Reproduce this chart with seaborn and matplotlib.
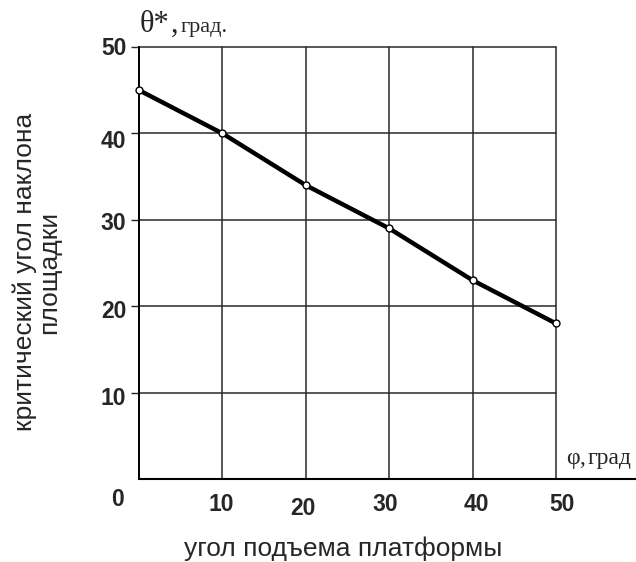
import matplotlib
matplotlib.use("Agg")
import matplotlib.pyplot as plt
import matplotlib.transforms as mtransforms
import seaborn as sns
import pandas as pd

phi = [0, 10, 20, 30, 40, 50]
theta = [45, 40, 34, 29, 23, 18]
x_ticks = [10, 20, 30, 40, 50]
y_ticks = [10, 20, 30, 40, 50]

sns.set_style("white")
plt.rcParams['font.family'] = ['Liberation Sans', 'DejaVu Sans']

df = pd.DataFrame({"phi": phi, "theta": theta})

W, H = 636, 562
fig = plt.figure(figsize=(W/100, H/100), dpi=100)
ax = fig.add_axes([139/W, 1-479/H, (556-139)/W, (479-47)/H])

ax.set_xlim(0, 50)
ax.set_ylim(0, 50)
for v in x_ticks:
    ax.axvline(v, color="#2a2a2a", lw=1.1, zorder=1, clip_on=False)
for v in y_ticks:
    ax.axhline(v, color="#2a2a2a", lw=1.1, zorder=1, clip_on=False)

sns.lineplot(data=df, x="phi", y="theta", ax=ax, color="black", lw=3.2,
             marker="o", markersize=5, markerfacecolor="white",
             markeredgecolor="black", markeredgewidth=1.0, zorder=3, clip_on=False)
ax.set_xlabel("")
ax.set_ylabel("")

for s in ["top", "right", "bottom"]:
    ax.spines[s].set_visible(False)
ax.spines["left"].set_color("black")
ax.spines["left"].set_linewidth(1.4)
ax.plot([0, 1.2], [0, 0], transform=ax.transAxes, color="black", lw=1.5, clip_on=False)

ax.set_xticks(x_ticks)
ax.set_yticks(y_ticks)
ax.tick_params(axis="x", length=0, pad=10, labelsize=16.5)
ax.tick_params(axis="y", length=6, width=1, direction="out", pad=3, labelsize=16.5, left=True)
for lab in ax.get_xticklabels() + ax.get_yticklabels():
    lab.set_fontweight("bold")

# small per-label offsets seen in the reference (pixels)
y_off = {50: 1, 40: -6, 30: -1.5, 20: -3, 10: -3}
for lab, v in zip(ax.get_yticklabels(), y_ticks):
    lab.set_transform(lab.get_transform() + mtransforms.ScaledTranslation(0, y_off[v]/100, fig.dpi_scale_trans))
x_off = {10: (-1, 0), 20: (-3, -4), 30: (-4, 0), 40: (4, 0), 50: (6, 0)}
for lab, v in zip(ax.get_xticklabels(), x_ticks):
    dx, dy = x_off[v]
    lab.set_transform(lab.get_transform() + mtransforms.ScaledTranslation(dx/100, dy/100, fig.dpi_scale_trans))

fig.text(118/W, 1-500/H, "0", ha="center", va="center", fontsize=16.5, fontweight="bold")

fig.text(343/W, 1-549/H, "угол подъема платформы", fontsize=19, ha="center", va="center")
fig.text(37/W, 1-272/H, "критический угол наклона\nплощадки", fontsize=19,
         ha="center", va="center", rotation=90, multialignment="center", linespacing=1.0)

serif = "Liberation Serif"
fig.text(140/W, 1-32/H, "θ*", fontsize=22, family=serif, ha="left", va="baseline")
fig.text(171/W, 1-32/H, ",", fontsize=22, family=serif, ha="left", va="baseline")
fig.text(181/W, 1-32/H, "град.", fontsize=16, family=serif, ha="left", va="baseline")
fig.text(566/W, 1-464/H, "φ", fontsize=17, family=serif, ha="left", va="baseline")
fig.text(579/W, 1-464/H, ",", fontsize=17, family=serif, ha="left", va="baseline")
fig.text(588/W, 1-464/H, "град", fontsize=17, family=serif, ha="left", va="baseline")

fig.savefig("out.png", dpi=100)
